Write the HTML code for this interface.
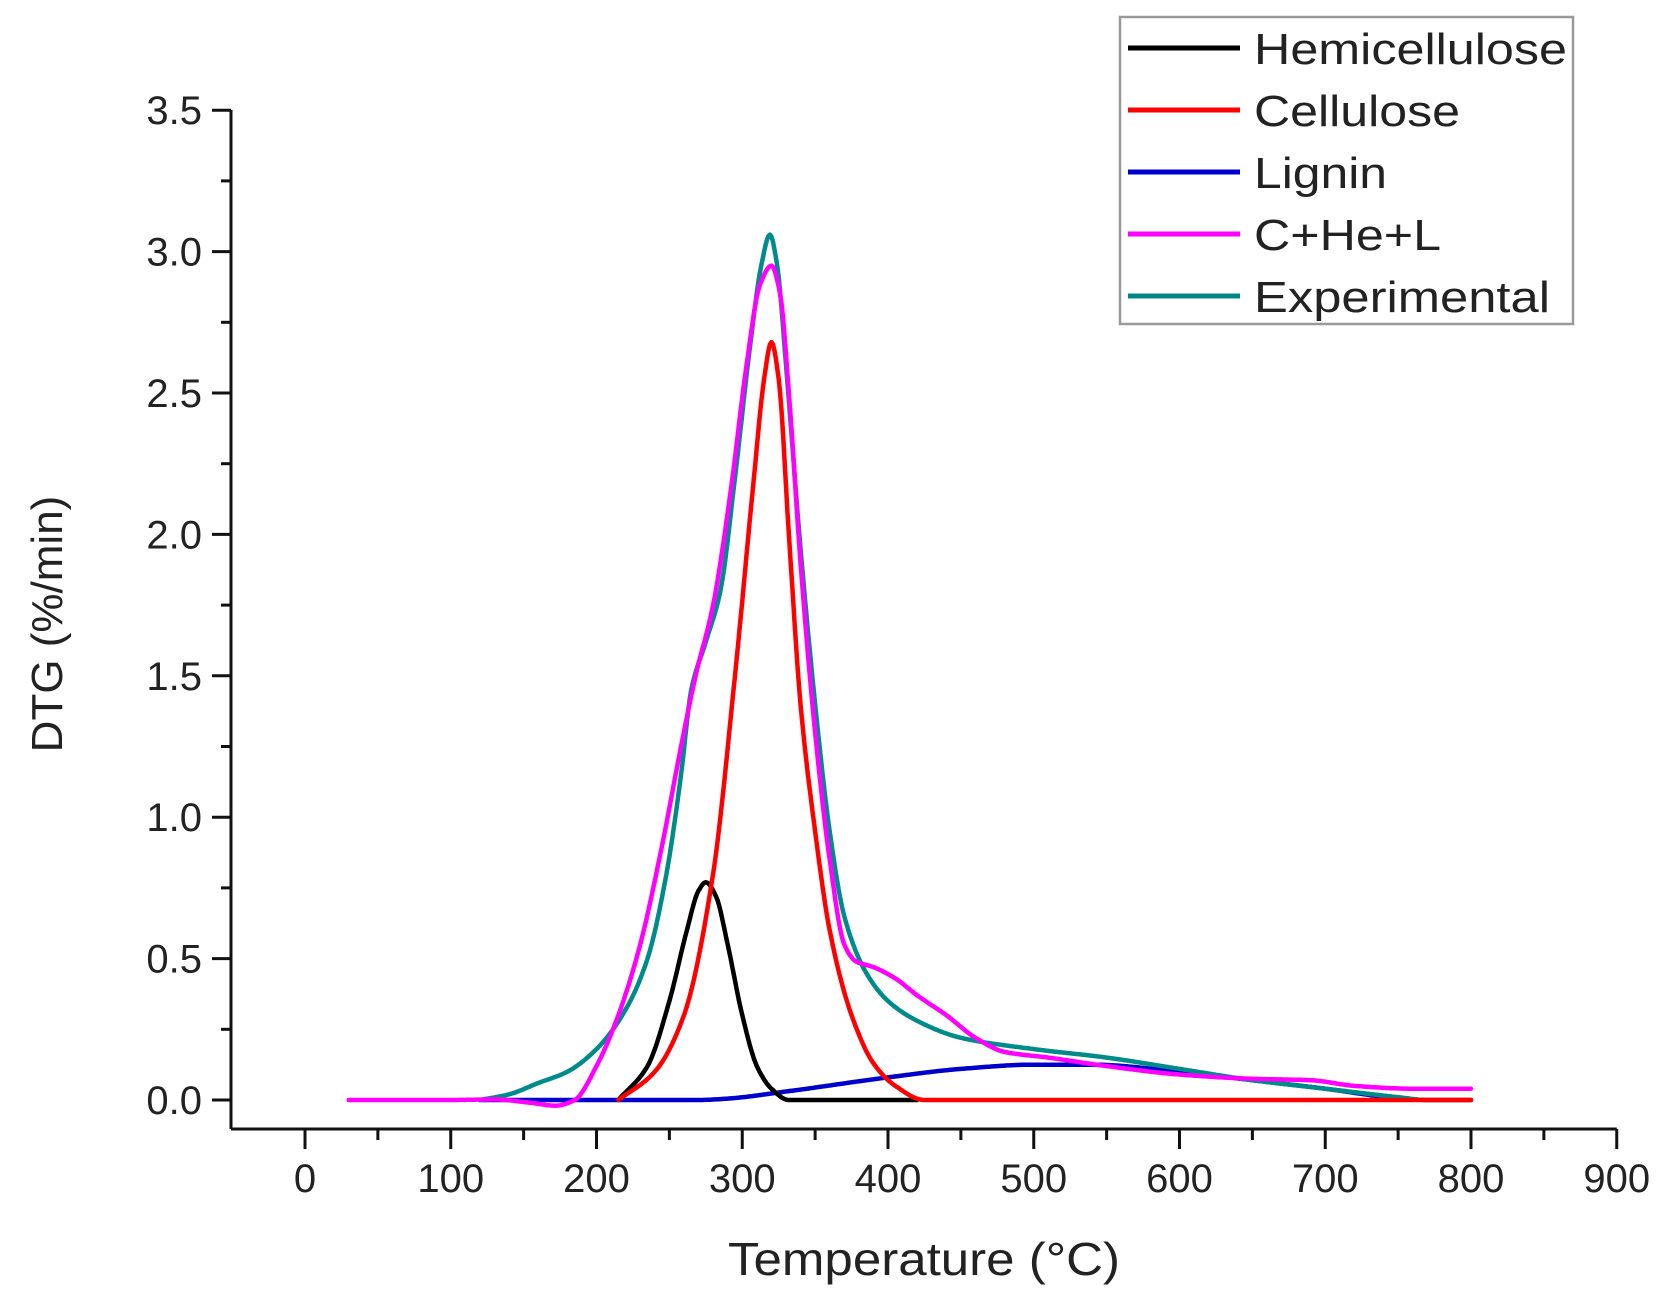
<!DOCTYPE html>
<html><head><meta charset="utf-8"><style>
html,body{margin:0;padding:0;background:#fff;}
svg{display:block;}
text{font-family:"Liberation Sans",Arial,sans-serif;fill:#222;}
</style></head><body>
<svg id="s" width="1679" height="1300" viewBox="0 0 1679 1300" xmlns="http://www.w3.org/2000/svg">
<g id="axes" stroke="#111" stroke-width="3" fill="none"></g>
<g id="labels"></g>
<g id="curves" fill="none" stroke-width="4.5" stroke-linejoin="round" stroke-linecap="round"></g>
<text x="0" y="0" font-size="44" text-anchor="middle" transform="translate(62,624) rotate(-90)">DTG (%/min)</text>
<text x="924" y="1275" font-size="46" text-anchor="middle" textLength="392" lengthAdjust="spacingAndGlyphs">Temperature (°C)</text>
<rect x="1120" y="17" width="453" height="307" fill="#fff" stroke="#999" stroke-width="2.5"/>
<g stroke-width="5">
<line x1="1128" y1="48" x2="1240" y2="48" stroke="#000"/>
<line x1="1128" y1="110" x2="1240" y2="110" stroke="#f00"/>
<line x1="1128" y1="172" x2="1240" y2="172" stroke="#00c"/>
<line x1="1128" y1="234" x2="1240" y2="234" stroke="#f0f"/>
<line x1="1128" y1="296" x2="1240" y2="296" stroke="#088"/>
</g>
<g font-size="44" fill="#111">
<text x="1254" y="64" textLength="313" lengthAdjust="spacingAndGlyphs">Hemicellulose</text>
<text x="1254" y="126" textLength="206" lengthAdjust="spacingAndGlyphs">Cellulose</text>
<text x="1254" y="188" textLength="133" lengthAdjust="spacingAndGlyphs">Lignin</text>
<text x="1254" y="250" textLength="187" lengthAdjust="spacingAndGlyphs">C+He+L</text>
<text x="1254" y="312" textLength="296" lengthAdjust="spacingAndGlyphs">Experimental</text>
</g>
</svg>
<script>
var NS="http://www.w3.org/2000/svg";
function X(t){return 305+1.4575*t;}
function Y(v){return 1100-v*282.8;}
function el(p,tag,a,txt){var e=document.createElementNS(NS,tag);for(var k in a)e.setAttribute(k,a[k]);if(txt!==undefined)e.textContent=txt;p.appendChild(e);return e;}
var ax=document.getElementById('axes'),lb=document.getElementById('labels');
var yB=1129;
el(ax,'line',{x1:231,y1:110,x2:231,y2:yB});
el(ax,'line',{x1:231,y1:yB,x2:X(900),y2:yB});
for(var t=0;t<=900;t+=50){var maj=(t%100===0);
 el(ax,'line',{x1:X(t),y1:yB,x2:X(t),y2:yB+(maj?20:11)});
 if(maj)el(lb,'text',{x:X(t),y:1192,'font-size':40,'text-anchor':'middle'},String(t));}
for(var i=0;i<=14;i++){var v=i*0.25,maj=(i%2===0);
 el(ax,'line',{x1:231,y1:Y(v),x2:231-(maj?19:10),y2:Y(v)});
 if(maj)el(lb,'text',{x:202,y:Y(v)+14,'font-size':40,'text-anchor':'end'},v.toFixed(1));}
function path(pts){
 var n=pts.length,xs=pts.map(function(p){return p[0];}),ys=pts.map(function(p){return p[1];});
 var d=[],m=[];
 for(var i=0;i<n-1;i++)d.push((ys[i+1]-ys[i])/(xs[i+1]-xs[i]));
 m[0]=d[0];m[n-1]=d[n-2];
 for(i=1;i<n-1;i++){ if(d[i-1]*d[i]<=0)m[i]=0; else {var w1=2*(xs[i+1]-xs[i])+(xs[i]-xs[i-1]),w2=(xs[i+1]-xs[i])+2*(xs[i]-xs[i-1]);m[i]=(w1+w2)/(w1/d[i-1]+w2/d[i]);}}
 var out=[];
 for(i=0;i<n-1;i++){var h=xs[i+1]-xs[i],steps=Math.max(2,Math.ceil(h));
  for(var s=(i===0?0:1);s<=steps;s++){var u=s/steps,u2=u*u,u3=u2*u;
   var y=(2*u3-3*u2+1)*ys[i]+(u3-2*u2+u)*h*m[i]+(-2*u3+3*u2)*ys[i+1]+(u3-u2)*h*m[i+1];
   out.push(X(xs[i]+u*h).toFixed(1)+","+Y(y).toFixed(1));}}
 return "M"+out.join("L");}
var S={
blue:[[120,0],[270,0],[290,0.005],[330,0.03],[400,0.08],[450,0.11],[500,0.125],[540,0.125],[600,0.1],[650,0.07],[700,0.04],[740,0.012],[770,0],[800,0]],
teal:[[120,0],[140,0.02],[160,0.06],[180,0.1],[200,0.18],[220,0.32],[235,0.5],[248,0.8],[258,1.15],[265,1.45],[275,1.62],[285,1.8],[295,2.2],[305,2.65],[313,2.95],[319,3.06],[324,2.95],[330,2.6],[340,1.95],[350,1.4],[360,0.95],[370,0.65],[385,0.45],[400,0.35],[420,0.28],[450,0.22],[500,0.18],[550,0.15],[600,0.11],[650,0.07],[700,0.04],[750,0.01],[770,0],[800,0]],
mag:[[30,0],[100,0],[130,0.002],[155,-0.01],[172,-0.02],[185,0],[200,0.12],[215,0.3],[230,0.55],[245,0.9],[258,1.25],[268,1.5],[280,1.75],[292,2.15],[303,2.6],[312,2.88],[320,2.95],[326,2.85],[332,2.5],[340,1.9],[350,1.3],[360,0.85],[370,0.55],[378,0.49],[390,0.47],[405,0.43],[420,0.37],[440,0.3],[460,0.22],[480,0.17],[510,0.15],[550,0.12],[600,0.09],[650,0.075],[690,0.07],[720,0.05],[760,0.04],[800,0.04]],
blk:[[215,0],[235,0.12],[250,0.35],[262,0.6],[270,0.74],[275,0.77],[282,0.72],[290,0.55],[300,0.3],[310,0.12],[320,0.04],[332,0],[420,0]],
red:[[215,0],[240,0.1],[260,0.3],[280,0.8],[295,1.5],[308,2.2],[315,2.55],[320,2.68],[325,2.55],[332,2.0],[340,1.4],[350,0.95],[360,0.6],[375,0.3],[390,0.13],[405,0.05],[425,0],[800,0]]};
var C={blue:"#0000cc",teal:"#008b8b",mag:"#ff00ff",blk:"#000",red:"#ff0000"};
var cv=document.getElementById('curves');
["blue","teal","mag","blk","red"].forEach(function(k){el(cv,'path',{d:path(S[k]),stroke:C[k]});});
</script>
</body></html>
